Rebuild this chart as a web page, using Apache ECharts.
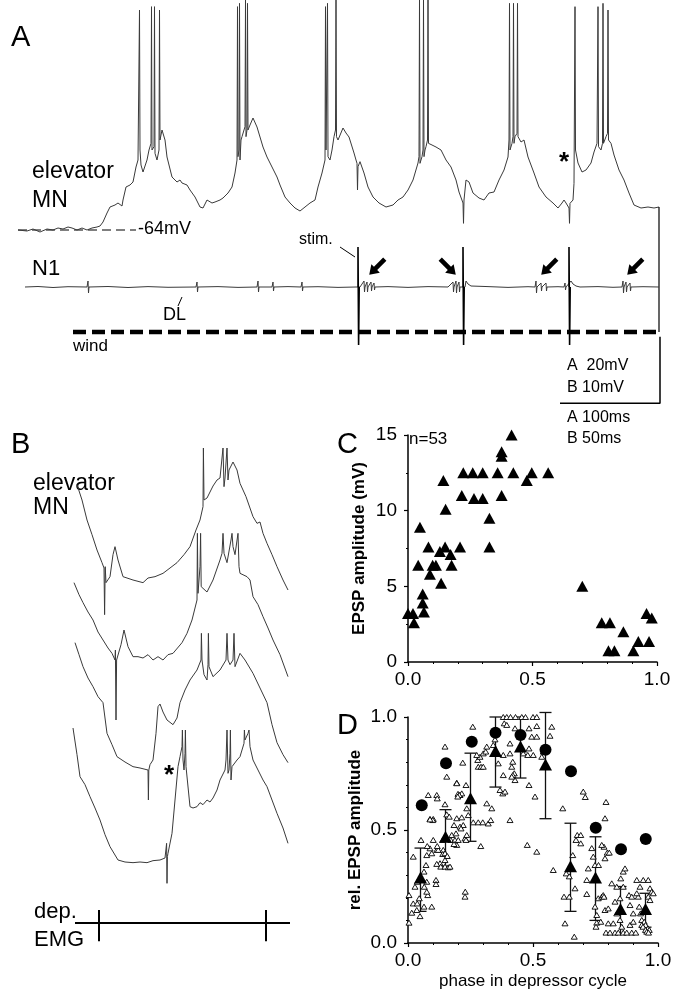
<!DOCTYPE html>
<html>
<head>
<meta charset="utf-8">
<script src="https://cdn.jsdelivr.net/npm/echarts@6/dist/echarts.min.js"></script>
<style>
  html, body { margin: 0; padding: 0; background: #fff; }
  #chart { width: 673px; height: 994px; }
</style>
</head>
<body>
<div id="chart"></div>
<script>
// ---------- panel A : elevator MN membrane potential [ms, mV] ----------
const elevatorTrace = [
  [0,-64],[9,-64.3],[15,-63.7],[22,-64.6],[29,-63.7],[35,-64],[40,-63.4],[45,-63.7],[50,-63.1],[54,-63.4],[59,-64],[64,-63.4],[69,-64],[74,-63.4],[79,-63.1],[82,-62.8],[85,-61.6],[89,-58.9],[92,-57.1],[97,-56.5],[100,-55.9],[104,-56.8],[105,-55],[108,-51.1],[112,-50.5],[115,-49.6],[118,-45.1],[120,-43],
  [121,-43],[121.5,2],[122,-40],[123,-44.5],[125,-46.6],[129,-43],[131,-40],[133,-38],[133.5,3],[134,-40],[136,-39],[136.5,3],[137,-41],[139,-43],[141,-40],[141.5,2],[142,-37],[144,-34],[147,-37],[149,-42.1],[154,-48.1],[159,-49.6],[162,-49],[164,-49.9],[169,-50.5],[172,-52],[177,-54.1],[182,-57.1],[185,-57.4],[189,-55],[190,-54.4],[194,-55.9],[197,-55.6],[202,-55],[205,-54.4],[210,-52.9],[214,-51.1],[217,-46.9],[219,-43],
  [219.5,3],[220,-42],[221,-40],[221.5,4],[222,-43],[223,-37],[224,-36],[226,-34],[227,-33],[227.5,5],[228,-36],[229,-34],[229.5,4],[230,-34],[232,-32.5],[235,-30.4],[239,-33.1],[242,-36.1],[245,-39.1],[249,-42.1],[254,-45.1],[259,-48.1],[262,-50.5],[267,-54.1],[272,-55.9],[277,-57.4],[282,-58.3],[287,-57.1],[292,-55.9],[297,-55],[300,-51.1],[304,-46.9],[307,-43],
  [307.5,3],[308,-40],[309,-40],[309.5,4],[310,-42],[312,-43],[314,-40],[316,-36],[317.5,-34],[318,5],[318.5,-36],[320,-37],[325,-33.4],[328,-34.9],[331,-36.1],[336,-40.9],[338,-43],[339,-44],[339.5,-52],[340,-45],[342,-43.5],[346,-46.9],[350,-51.1],[355,-54.1],[361,-55.9],[368,-57.1],[375,-56.5],[380,-55],[385,-54.1],[390,-52],[395,-49],[400,-43.9],
  [401,-42],[401.5,5],[402,-44],[404,-42],[405,-40],[405.5,5],[406,-42],[407,-40],[408,-39],[409.5,-37],[410,5],[410.5,-38],[414,-38.5],[418,-39.1],[423,-40],[428,-43],[433,-45.1],[438,-49],[441,-52.6],[445,-55.9],[445.5,-62],[446,-55],[448,-49],[451,-49.6],[455,-52.9],[461,-54.4],[466,-55],[471,-52.9],[476,-52.6],[481,-49],[486,-46],[490,-42.1],[491,-37],
  [491.5,4],[492,-40],[494,-38],[495,-36],[495.5,4],[496,-38],[497,-36],[499,-35],[499.5,4],[500,-36],[503,-37.6],[506,-37],[510,-42.1],[516,-46.9],[521,-51.1],[528,-54.1],[535,-55.9],[540,-57.4],[544,-55.9],[546,-55],[548,-55.9],[551,-57.4],[551.5,-62],[552,-56],[555,-55],[556,-50],[557,3],[557.5,-40],[560,-43.9],[564,-46.6],[568,-46],[573,-43.9],[576,-40.6],
  [579,-38],[580,3],[580.5,-39],[583,-40],[584.5,-38],[585,4],[585.5,-38],[588,-36],[589.5,-35],[590,2],[590.5,-37],[593,-38],[596,-41.5],[601,-46],[606,-49],[611,-52.9],[616,-56.5],[623,-57.4],[630,-57.1],[636,-57.4],[641,-57.1]
];
const restingLevel = -64;          // mV, dashed reference
const traceEndTime = 641;          // ms
const endMarkerLow = -94.6;        // mV-scale end of the right vertical marker

// N1 extracellular nerve recording [ms, a.u.]
const n1Trace = [
  [7,0],[20,0.5],[35,-0.5],[50,0.3],[69,0],[70,6],[70.5,-6],[71,0],[90,0.5],[110,-0.5],[130,0.4],[150,-0.3],[178,0],[179,5],[179.5,-5],[180,0],[200,0.4],[220,-0.4],[239,0],[240,6],[240.5,-5],[241,0],[254,0],[255,5],[255.5,-4],[256,0],[270,0.4],[283,0],[284,5],[284.5,-4],[285,0],[300,0.3],[320,-0.4],[338,0],
  [342,0],[346,6],[346.5,-5],[347,0],[349,5],[349.5,-5],[350,0],[353,5],[353.5,-4],[354,0],[356,4],[356.5,-3],[357,0],[370,0.4],[390,-0.4],[410,0.4],[430,0],[435,5],[435.5,-5],[436,0],[438,6],[438.5,-6],[439,0],[441,5],[441.5,-5],[442,0],[444,0],
  [447,0],[448,6],[450,3],[453,1],[455,0],[470,0.4],[490,-0.4],[510,0.3],[517,0],[518,6],[518.5,-6],[519,0],[523,4],[523.5,-4],[524,0],[528,4],[528.5,-4],[529,0],[540,0.3],[546,0],[547,4],[547.5,-3],[548,0],[550,0],
  [553,6],[555,3],[558,1],[562,0],[580,0.4],[595,-0.3],[604,0],[605,6],[605.5,-6],[606,0],[608,5],[608.5,-5],[609,0],[612,4],[612.5,-4],[613,0],[625,0.3],[641,0]
];
const stimTimes = [340, 445, 551];
const stimTop = [40, 40, 40];
const stimBottom = [-58, -58, -58];
const arrowTimes = [359, 430, 531, 617];
const arrowLevel = 20;
const arrowRotate = [135, -135, 135, 135];
const windStart = 55, windEnd = 641, windLevel = -45;
const scaleBarMs = 100, scaleBarMv = 20, scaleBarCorner = [642, -116];

// ---------- panel B : four sweeps [ms, mV, offset as displayed] ----------
const sweep1 = [[3.5,62.3],[6,60],[8.5,57],[11,54.8],[13.5,52.5],[16,50.6],[17,49.8],[17.3,42.8],[17.6,50],[18,47.6],[20,48.5],[21.5,51.8],[22.5,53],[24,51],[26.5,48.5],[31.5,48],[36.5,47.6],[39,48.3],[42.5,48.5],[46.5,49],[50,49.8],[53.5,50.6],[57,51.8],[60,53],[63,55.5],[65,57],[66.5,59],[66.7,67.8],[67,60],[68.5,60.3],[70,61.2],[71.5,62.1],[73.5,63],[75,63.3],[76.5,67.8],[77,62],[77.5,63.3],[78.5,67.8],[79,63],[79.5,64.5],[81.5,65.7],[83.5,64.5],[85,62.5],[88,60.5],[91.5,57.5],[93.5,56.5],[95,56.7],[96.5,55],[98.5,53.5],[101,51.8],[103.5,50],[106.5,48],[109,46.5]];
const sweep2 = [[2,47.6],[4.5,45.8],[6.5,44.6],[9,43.2],[11.5,42],[14,40.2],[16.5,39],[19,37.8],[21,37],[22.5,36],[22.7,37.5],[23,27],[23.3,36],[24,35.7],[25.5,38.3],[27,40.5],[29,38],[31.5,36.5],[34,36.5],[36.5,36.3],[39,36.8],[41.5,36],[44,36.5],[46.5,36],[49,36.8],[51.5,37],[56,38.6],[58.5,40],[61,42],[63.5,45],[63.7,55],[64,46],[65,50],[65.3,55],[65.6,47],[66.5,47.3],[68.5,46.2],[71.5,48],[75,51],[76,52],[76.5,55],[77,52],[78.5,50.6],[80.5,54],[81,55],[81.5,53],[82.5,51.8],[83.5,52],[84,55],[84.5,50],[85,49],[88.5,48.5],[90,48],[91.5,45.5],[94,44.3],[96.5,42.5],[99,40.8],[101.5,39],[105,36.8],[109,33.5]];
const sweep3 = [[2.5,38.6],[4.5,36.8],[6.5,35],[9,33.3],[11.5,32],[14,30.5],[16.5,29.6],[18.5,25],[21,23.3],[23.5,21.5],[27.5,20.7],[31.5,20],[35,19.8],[39,19.5],[39.2,15],[39.4,19.5],[40,20.3],[41.5,21],[43,25],[44,29],[45,29.4],[46.5,28.2],[48.5,27],[51.5,26.3],[53.5,27.3],[55,29.6],[57.5,31.5],[60,33],[63.5,34.5],[65.5,36],[65.7,40],[66,36],[67,33.8],[68.5,33],[69,35.3],[69.2,40],[69.5,35],[71.5,33.5],[75,34.5],[78,36],[78.5,40],[79,36],[80,35.3],[81.5,36],[82,40],[82.5,35],[85,37],[87.5,36],[91.5,34],[95,31.8],[98.5,29.6],[101,26.3],[103.5,23.6],[106.5,21.8],[109,20.6]];
const sweep4 = [[1.5,25.8],[3.5,21.8],[5,18.5],[7.5,17.3],[10,15.5],[12.5,13.8],[15,12],[17.5,9.8],[20,8],[24,6],[27.5,5.7],[31.5,5.6],[35,5.7],[38.5,5.6],[41.5,5.9],[45,6],[47.5,6.3],[48.3,8.5],[48.5,2.5],[48.7,6.5],[49,7],[51,10],[52.5,15],[54,20],[55,21.5],[56,23],[56.2,25.5],[56.5,21],[57,19.5],[57.5,22],[57.7,25.5],[58,20],[58.5,20],[60,14],[61.5,13.8],[63.5,14],[65,14.6],[66.5,14.3],[68.5,15],[70,14.7],[71.5,15.3],[73.5,16.5],[75,18],[77.5,19.5],[78,21],[78.5,25.5],[79,19],[79.5,19.5],[80,22],[80.2,25.5],[80.5,18],[81,20],[83.5,21],[85,21.5],[87,23.5],[87.2,25.5],[87.5,24],[89,25],[89.5,25.5],[90,23],[91.5,21],[94,19.5],[96.5,18],[98.5,17],[101,15],[103.5,13],[106.5,10.8],[109,8.5]];
const emgLevel = -3.45, emgStart = 2.5, emgEnd = 110;
const emgBursts = [14.5, 98];
const emgTickTop = -1.5, emgTickBottom = -6.2;

// ---------- panel C : EPSP amplitude vs phase ----------
const phaseC = [0.416,0.376,0.376,0.222,0.26,0.30,0.36,0.423,0.497,0.563,0.477,0.142,0.216,0.376,0.265,0.30,0.151,0.327,0.048,0.082,0.149,0.209,0.327,0.128,0.171,0.041,0.099,0.112,0.175,0.088,0.133,0.70,0.059,0.059,0.064,0.0,0.02,0.024,0.778,0.811,0.865,0.805,0.829,0.905,0.925,0.968,0.958,0.979];
const ampC   = [15.0,13.9,13.6,12.5,12.5,12.5,12.5,12.5,12.5,12.5,12.0,12.0,11.0,11.0,10.8,10.8,10.1,9.5,8.9,7.6,7.6,7.6,7.6,7.3,7.1,6.4,6.4,6.4,6.4,5.8,5.2,5.0,4.5,3.9,3.3,3.2,3.2,2.6,2.6,2.6,2.0,0.75,0.75,0.75,1.35,1.35,3.2,2.9];

// ---------- panel D : relative EPSP amplitude vs phase ----------
const openPoints = [
  [.259,.957],[.148,.869],[.155,.736],[.219,.798],[.195,.709],[.232,.699],[.20,.66],[.208,.655],[.235,.596],[.081,.655],[.115,.655],[.148,.614],[.088,.549],[.101,.549],[.155,.569],[.195,.552],[.215,.556],[.241,.566],[.261,.534],[.281,.534],[.299,.534],[.321,.529],[.331,.544],[.315,.618],[.335,.596],[.281,.78],[.292,.78],[.301,.78],[.279,.81],[.288,.824],[.275,.832],[.301,.839],[.311,.847],[.315,.869],[.341,.876],[.348,.901],[.344,.935],[.381,1.0],[.385,.972],[.381,.832],[.361,.795],[.381,.743],[.368,.677],[.379,.662],[.388,.670],[.408,.839],[.408,.883],[.419,.802],[.415,.780],[.425,.751],[.419,.743],[.428,.721],[.415,.736],[.395,.965],[.395,1.0],[.41,1.0],[.43,1.0],[.455,1.0],[.47,1.0],[.50,1.0],[.515,1.0],[.428,.95],[.484,.95],[.515,.96],[.495,.913],[.484,.861],[.461,.839],[.479,.832],[.501,.832],[.515,.913],[.535,.824],[.484,.699],[.508,.648],[.568,.917],[.575,.957],[.541,.847],[.619,.596],[.709,.646],[.792,.624],[.788,.552],[.408,.544],
  [.052,.456],[.021,.382],[.004,.09],[.004,.212],[.021,.175],[.015,.134],[.035,.146],[.037,.175],[.045,.198],[.028,.249],[.037,.271],[.055,.279],[.065,.249],[.075,.271],[.079,.212],[.075,.227],[.064,.316],[.072,.345],[.075,.389],[.048,.119],[.064,.161],[.095,.161],[.095,.397],[.101,.456],[.088,.419],[.077,.429],[.112,.279],[.112,.261],[.115,.412],[.121,.412],[.117,.429],[.139,.456],[.141,.412],[.139,.394],[.148,.397],[.157,.385],[.148,.367],[.128,.353],[.115,.35],[.131,.338],[.148,.338],[.161,.335],[.168,.338],[.171,.456],[.188,.456],[.201,.456],[.195,.434],[.184,.438],[.175,.478],[.192,.485],[.228,.463],[.235,.478],[.232,.456],[.228,.205],[.229,.227],[.291,.429],[.221,.522],[.208,.515],[.215,.662],[.205,.655],[.199,.648],[.195,.707],[.117,.64],[.099,.544],[.088,.547],[.165,.559],[.212,.507],[.184,.522],
  [.477,.434],[.515,.404],[.581,.323],[.628,.087],[.665,.028],[.633,.308],[.624,.205],[.645,.205],[.645,.295],[.672,.456],[.677,.478],[.659,.389],[.668,.242],[.691,.478],[.691,.441],[.701,.67],[.715,.279],[.715,.217],[.721,.33],[.741,.382],[.748,.345],[.762,.345],[.735,.42],[.784,.426],[.775,.434],[.788,.375],[.797,.4],[.805,.4],[.761,.198],[.775,.205],[.781,.212],[.784,.205],[.788,.146],[.801,.153],[.755,.124],[.748,.161],[.755,.09],[.771,.094],[.752,.072],
  [.792,.046],[.808,.046],[.828,.046],[.841,.046],[.861,.046],[.875,.046],[.895,.046],[.911,.046],[.801,.087],[.821,.087],[.815,.264],[.835,.249],[.851,.286],[.861,.316],[.868,.33],[.861,.249],[.848,.198],[.828,.183],[.835,.131],[.848,.102],[.855,.072],[.884,.212],[.888,.168],[.895,.205],[.901,.131],[.888,.08],[.901,.094],[.915,.279],[.928,.249],[.921,.205],[.915,.22],[.941,.279],[.961,.279],[.968,.242],[.975,.227],[.981,.22],[.961,.205],[.968,.19],[.925,.161],[.93,.131],[.935,.102],[.945,.094],[.95,.08],[.96,.065],[.965,.058],[.935,.08],[.94,.072],[.95,.058],[.955,.05],[.962,.046]
];
const meanPhase = [0.05,0.15,0.25,0.35,0.45,0.55,0.65,0.75,0.85,0.95];
const meanRel   = [0.29,0.47,0.64,0.85,0.87,0.79,0.34,0.29,0.15,0.15];
const errLow    = [0.14,0.34,0.45,0.69,0.73,0.55,0.14,0.10,0.04,0.07];
const errHigh   = [0.42,0.59,0.84,1.0,1.0,1.02,0.53,0.47,0.25,0.22];
const singlePhase = [0.055,0.152,0.255,0.35,0.45,0.55,0.652,0.751,0.852,0.951];
const singleRel   = [0.61,0.795,0.89,0.93,0.92,0.855,0.76,0.51,0.415,0.46];

const FONT = '"Liberation Sans", Arial, Helvetica, sans-serif';
const chart = echarts.init(document.getElementById('chart'), null, { renderer: 'canvas' });

function trace(data, idx, style) {
  return {
    type: 'line', xAxisIndex: idx, yAxisIndex: idx, data: data,
    symbol: 'none', showSymbol: false, silent: true, animation: false, clip: false,
    lineStyle: Object.assign({ color: '#3a3a3a', width: 1, opacity: 1 }, style || {})
  };
}
function txt(x, y, text, size, extra) {
  return {
    type: 'text', x: x, y: y, silent: true,
    style: Object.assign({ text: text, fontSize: size, fontFamily: FONT, fill: '#000',
      textAlign: 'left', textVerticalAlign: 'middle' }, extra || {})
  };
}
const hiddenAxis = (idx, min, max) => ({ gridIndex: idx, type: 'value', min: min, max: max, show: false });

const axisCommon = {
  axisLine: { show: true, lineStyle: { color: '#000', width: 1.5 } },
  axisTick: { show: true, length: 4, lineStyle: { color: '#000', width: 1.2 } },
  minorTick: { show: true, length: 2, lineStyle: { color: '#000', width: 1 } },
  splitLine: { show: false },
  axisLabel: { color: '#000', fontSize: 19, fontFamily: FONT, margin: 5 }
};
function scaled(extra) { return Object.assign({}, JSON.parse(JSON.stringify(axisCommon)), extra); }

const series = [];
// panel A
series.push(trace([[0, restingLevel], [118, restingLevel]], 0, { type: [9, 5], width: 1.2, color: '#000' }));
series.push(trace(elevatorTrace, 0));
series.push(trace([[traceEndTime, elevatorTrace[elevatorTrace.length - 1][1]], [traceEndTime, endMarkerLow]], 0, { color: '#000', width: 1.2 }));
series.push(trace([[scaleBarCorner[0] - scaleBarMs, scaleBarCorner[1]], scaleBarCorner, [scaleBarCorner[0], scaleBarCorner[1] + scaleBarMv]], 0, { color: '#000', width: 1.5 }));
series.push(trace(n1Trace, 1, { width: 1 }));
stimTimes.forEach((t, i) => {
  series.push(trace([[t, 0], [t, stimTop[i]], [t + 0.6, stimBottom[i]], [t + 1.2, 0]], 1, { color: '#000', width: 1.6 }));
});
series.push(trace([[windStart, windLevel], [windEnd, windLevel]], 1, { color: '#000', width: 4.5, type: [13, 6] }));
series.push({
  type: 'scatter', xAxisIndex: 1, yAxisIndex: 1, silent: true, animation: false,
  symbol: 'path://M6,0 L12,9 L8.3,9 L8.3,22 L3.7,22 L3.7,9 L0,9 Z', symbolSize: [12, 22],
  data: arrowTimes.map((t, i) => ({ value: [t, arrowLevel], symbolRotate: arrowRotate[i] })),
  itemStyle: { color: '#000', opacity: 1 }
});
// panel B
[sweep1, sweep2, sweep3, sweep4].forEach(s => series.push(trace(s, 2)));
series.push(trace([[emgStart, emgLevel], [emgEnd, emgLevel]], 2, { color: '#000', width: 2 }));
emgBursts.forEach(t => series.push(trace([[t, emgTickTop], [t, emgTickBottom]], 2, { color: '#000', width: 2 })));
// panel C
series.push({
  type: 'scatter', xAxisIndex: 3, yAxisIndex: 3, animation: false, symbol: 'triangle', symbolSize: [12, 11],
  itemStyle: { color: '#000', opacity: 1 }, data: phaseC.map((p, i) => [p, ampC[i]])
});
// panel D
series.push({
  type: 'scatter', xAxisIndex: 4, yAxisIndex: 4, animation: false, symbol: 'triangle', symbolSize: [6, 5],
  itemStyle: { color: '#fff', borderColor: '#000', borderWidth: 0.9, opacity: 1 }, data: openPoints
});
series.push({
  type: 'custom', xAxisIndex: 4, yAxisIndex: 4, animation: false,
  data: meanPhase.map((p, i) => [p, errLow[i], errHigh[i]]),
  renderItem: (params, api) => {
    const x = api.value(0);
    const top = api.coord([x, api.value(2)]);
    const bot = api.coord([x, api.value(1)]);
    const w = 6, st = { stroke: '#111', lineWidth: 1.3 };
    return { type: 'group', children: [
      { type: 'line', shape: { x1: top[0], y1: top[1], x2: bot[0], y2: bot[1] }, style: st },
      { type: 'line', shape: { x1: top[0] - w, y1: top[1], x2: top[0] + w, y2: top[1] }, style: st },
      { type: 'line', shape: { x1: bot[0] - w, y1: bot[1], x2: bot[0] + w, y2: bot[1] }, style: st }
    ] };
  }
});
series.push({
  type: 'scatter', xAxisIndex: 4, yAxisIndex: 4, animation: false, symbol: 'triangle', symbolSize: [13, 12],
  itemStyle: { color: '#000', opacity: 1 }, data: meanPhase.map((p, i) => [p, meanRel[i]])
});
series.push({
  type: 'scatter', xAxisIndex: 4, yAxisIndex: 4, animation: false, symbol: 'circle', symbolSize: 12,
  itemStyle: { color: '#000', opacity: 1 }, data: singlePhase.map((p, i) => [p, singleRel[i]])
});

const option = {
  animation: false,
  backgroundColor: '#fff',
  textStyle: { fontFamily: FONT },
  grid: [
    { left: 18, top: 0, width: 655, height: 420, outerBoundsMode: 'none' },
    { left: 18, top: 240, width: 655, height: 110, outerBoundsMode: 'none' },
    { left: 70, top: 420, width: 230, height: 540, outerBoundsMode: 'none' },
    { left: 408, top: 435, width: 249, height: 227, outerBoundsMode: 'none' },
    { left: 408, top: 717, width: 250, height: 226, outerBoundsMode: 'none' }
  ],
  xAxis: [
    hiddenAxis(0, 0, 655),
    hiddenAxis(1, 0, 655),
    hiddenAxis(2, 0, 115),
    scaled({ gridIndex: 3, type: 'value', min: 0, max: 1, interval: 0.5, offset: 2,
      minorTick: { show: true, splitNumber: 5, length: 2, lineStyle: { color: '#000' } },
      axisLabel: { color: '#000', fontSize: 19, fontFamily: FONT, margin: 6, formatter: v => v.toFixed(1) } }),
    scaled({ gridIndex: 4, type: 'value', min: 0, max: 1, interval: 0.5, offset: 2,
      minorTick: { show: true, splitNumber: 5, length: 2, lineStyle: { color: '#000' } },
      axisLabel: { color: '#000', fontSize: 19, fontFamily: FONT, margin: 6, formatter: v => v.toFixed(1) },
      name: 'phase in depressor cycle', nameLocation: 'middle', nameGap: 28,
      nameTextStyle: { color: '#000', fontSize: 17, fontFamily: FONT } })
  ],
  yAxis: [
    hiddenAxis(0, -121, 5),
    hiddenAxis(1, -63, 47),
    hiddenAxis(2, -9, 72),
    scaled({ gridIndex: 3, type: 'value', min: 0, max: 15, interval: 5, offset: 6,
      minorTick: { show: true, splitNumber: 2, length: 2, lineStyle: { color: '#000' } },
      name: 'EPSP amplitude (mV)', nameLocation: 'middle', nameGap: 34,
      nameTextStyle: { color: '#000', fontSize: 17, fontWeight: 'bold', fontFamily: FONT } }),
    scaled({ gridIndex: 4, type: 'value', min: 0, max: 1, interval: 0.5, offset: 6,
      minorTick: { show: true, splitNumber: 5, length: 2, lineStyle: { color: '#000' } },
      axisLabel: { color: '#000', fontSize: 19, fontFamily: FONT, margin: 5, formatter: v => v.toFixed(1) },
      name: 'rel. EPSP amplitude', nameLocation: 'middle', nameGap: 38,
      nameTextStyle: { color: '#000', fontSize: 17, fontWeight: 'bold', fontFamily: FONT } })
  ],
  graphic: [
    txt(11, 38, 'A', 29),
    txt(32, 172, 'elevator', 23),
    txt(32, 201, 'MN', 23),
    txt(138, 229, '-64mV', 18),
    txt(299, 240, 'stim.', 16),
    { type: 'line', silent: true, shape: { x1: 340, y1: 247, x2: 355, y2: 257 }, style: { stroke: '#000', lineWidth: 1 } },
    txt(32, 269, 'N1', 22),
    txt(163, 315, 'DL', 18),
    { type: 'line', silent: true, shape: { x1: 178, y1: 306, x2: 182, y2: 297 }, style: { stroke: '#000', lineWidth: 1 } },
    txt(73, 346, 'wind', 17),
    txt(559, 163, '*', 26, { fontWeight: 'bold' }),
    txt(567, 366, 'A  20mV', 16),
    txt(567, 388, 'B 10mV', 16),
    txt(567, 418, 'A 100ms', 16),
    txt(567, 439, 'B 50ms', 16),
    txt(11, 445, 'B', 29),
    txt(33, 484, 'elevator', 23),
    txt(33, 508, 'MN', 23),
    txt(164, 776, '*', 26, { fontWeight: 'bold' }),
    txt(34, 912, 'dep.', 22),
    txt(34, 940, 'EMG', 22),
    txt(337, 445, 'C', 29),
    txt(409, 439, 'n=53', 17),
    txt(337, 726, 'D', 29)
  ],
  series: series
};
chart.setOption(option);
</script>
</body>
</html>
